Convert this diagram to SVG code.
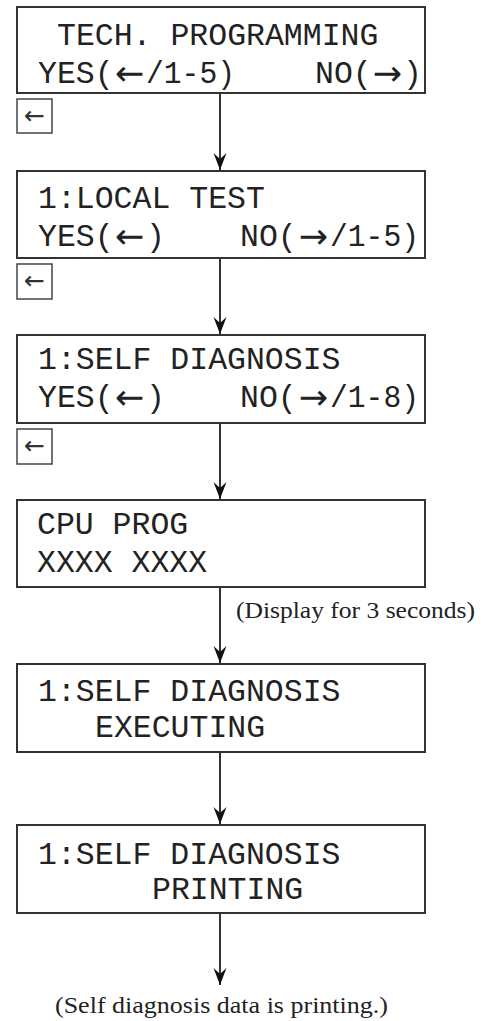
<svg xmlns="http://www.w3.org/2000/svg" width="484" height="1021" viewBox="0 0 484 1021">
<style>
.box{fill:#fff;stroke:#333;stroke-width:2}
.key{fill:#fff;stroke:#444;stroke-width:1.5}
.lcd{font-family:"Liberation Mono","DejaVu Sans Mono",monospace;font-size:31.5px;fill:#222}
.ar{font-family:"DejaVu Sans",sans-serif;font-size:35px;fill:#222;text-anchor:middle}
.keyt{font-family:"DejaVu Sans",sans-serif;font-size:25px;fill:#333;text-anchor:middle}
.note{font-family:"Liberation Serif","DejaVu Serif",serif;font-size:24px;fill:#222}
.conn{stroke:#333;stroke-width:2;fill:none;marker-end:url(#ah)}
</style>
<defs>
<marker id="ah" viewBox="-18 -8 19 16" refX="0" refY="0" markerWidth="19" markerHeight="16" markerUnits="userSpaceOnUse" orient="auto">
<path d="M0,0 L-17,-6.5 L-11,0 L-17,6.5 Z" fill="#111"/>
</marker>
</defs>
<rect width="484" height="1021" fill="#fff"/>
<g id="connectors">
<line class="conn" x1="220" y1="93" x2="220" y2="170"/>
<line class="conn" x1="220" y1="258" x2="220" y2="334"/>
<line class="conn" x1="220" y1="423" x2="220" y2="499"/>
<line class="conn" x1="220" y1="587" x2="220" y2="663"/>
<line class="conn" x1="220" y1="752" x2="220" y2="824"/>
<line class="conn" x1="220" y1="913" x2="220" y2="985"/>
</g>
<g id="n1">
<rect class="box" x="17" y="7" width="408" height="86"/>
<text class="lcd" x="57" y="45">TECH. PROGRAMMING</text>
<text class="lcd" x="38" y="83">YES(</text>
<text class="ar" x="129.5" y="85">←</text>
<text class="lcd" x="146" y="83" textLength="89" lengthAdjust="spacingAndGlyphs">/1-5)</text>
<text class="lcd" x="315" y="83">NO(</text>
<text class="ar" x="387.5" y="85">→</text>
<text class="lcd" x="403" y="83">)</text>
</g>
<g id="k1">
<rect class="key" x="17" y="99" width="35" height="34"/>
<text class="keyt" x="34.5" y="124">←</text>
</g>
<g id="n2">
<rect class="box" x="17" y="171" width="408" height="87"/>
<text class="lcd" x="38" y="208">1:LOCAL TEST</text>
<text class="lcd" x="38" y="246">YES(</text>
<text class="ar" x="129.5" y="248">←</text>
<text class="lcd" x="146" y="246">)</text>
<text class="lcd" x="240" y="246">NO(</text>
<text class="ar" x="313.5" y="248">→</text>
<text class="lcd" x="330" y="246" textLength="89" lengthAdjust="spacingAndGlyphs">/1-5)</text>
</g>
<g id="k2">
<rect class="key" x="17" y="264" width="35" height="35"/>
<text class="keyt" x="34.5" y="289">←</text>
</g>
<g id="n3">
<rect class="box" x="17" y="335" width="408" height="88"/>
<text class="lcd" x="38" y="369">1:SELF DIAGNOSIS</text>
<text class="lcd" x="38" y="407">YES(</text>
<text class="ar" x="129.5" y="409">←</text>
<text class="lcd" x="146" y="407">)</text>
<text class="lcd" x="240" y="407">NO(</text>
<text class="ar" x="313.5" y="409">→</text>
<text class="lcd" x="330" y="407" textLength="89" lengthAdjust="spacingAndGlyphs">/1-8)</text>
</g>
<g id="k3">
<rect class="key" x="17" y="429" width="35" height="35"/>
<text class="keyt" x="34.5" y="454">←</text>
</g>
<g id="n4">
<rect class="box" x="17" y="500" width="408" height="87"/>
<text class="lcd" x="37" y="534">CPU PROG</text>
<text class="lcd" x="37" y="572">XXXX XXXX</text>
</g>
<text class="note" x="236" y="618" textLength="239" lengthAdjust="spacingAndGlyphs">(Display for 3 seconds)</text>
<g id="n5">
<rect class="box" x="17" y="664" width="408" height="88"/>
<text class="lcd" x="38" y="701">1:SELF DIAGNOSIS</text>
<text class="lcd" x="95" y="737">EXECUTING</text>
</g>
<g id="n6">
<rect class="box" x="17" y="825" width="408" height="88"/>
<text class="lcd" x="38" y="864">1:SELF DIAGNOSIS</text>
<text class="lcd" x="152" y="899">PRINTING</text>
</g>
<text class="note" x="55" y="1013" textLength="333" lengthAdjust="spacingAndGlyphs">(Self diagnosis data is printing.)</text>
</svg>
